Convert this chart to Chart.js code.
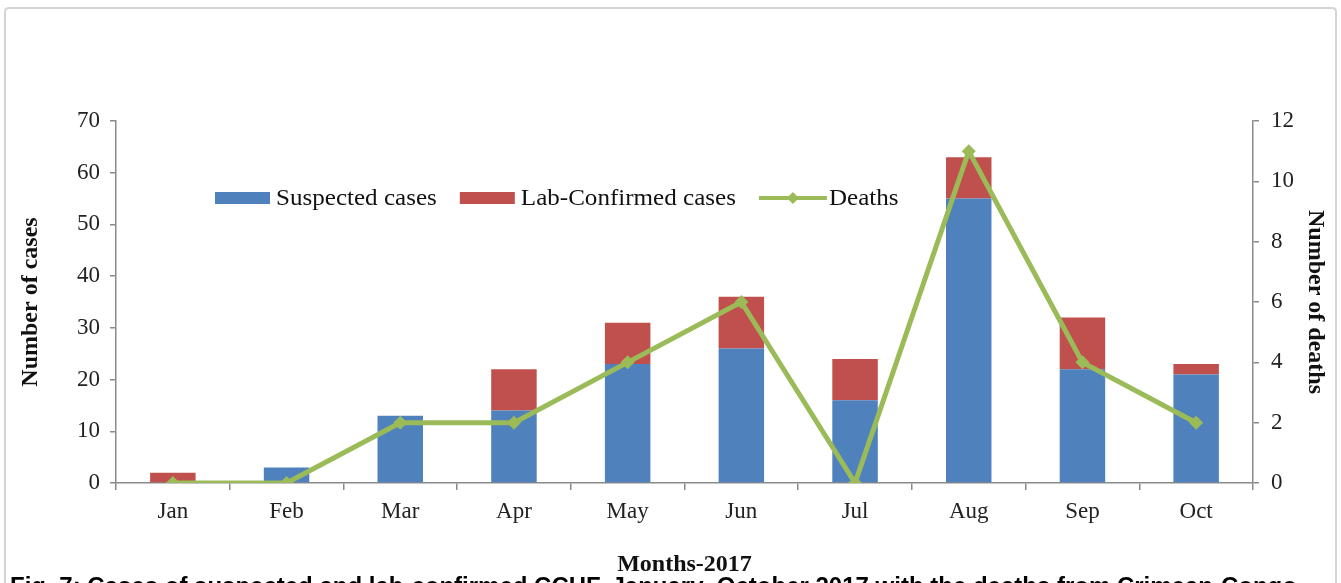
<!DOCTYPE html>
<html><head><meta charset="utf-8">
<script src="https://cdn.jsdelivr.net/npm/chart.js@4.4.1/dist/chart.umd.min.js"></script>
<style>html,body{margin:0;padding:0;background:#fff;overflow:hidden}#wrap{position:relative;width:1341px;height:583px}</style>
</head><body><div id="wrap"><canvas id="c" width="1341" height="583"></canvas></div>
<script>
const months = ['Jan','Feb','Mar','Apr','May','Jun','Jul','Aug','Sep','Oct'];
const suspectedCases = [0, 3, 13, 14, 23, 26, 16, 55, 22, 21];
const labConfirmedCases = [2, 0, 0, 8, 8, 10, 8, 8, 10, 2];
const deaths = [0, 0, 2, 2, 4, 6, 0, 11, 4, 2];
const casesTicks = [0, 10, 20, 30, 40, 50, 60, 70];
const deathsTicks = [0, 2, 4, 6, 8, 10, 12];
const seriesNames = ['Suspected cases', 'Lab-Confirmed cases', 'Deaths'];
const captionText = 'Fig. 7: Cases of suspected and lab-confirmed CCHF, January\u2013October 2017 with the deaths from Crimean-Congo';

const BLUE = '#4F81BD', RED = '#C0504D', GREEN = '#9BBB59', AXIS = '#8a8a8a';
const SERIF = '"Liberation Serif", "Times New Roman", serif';

const framePlugin = {
  id: 'frame',
  beforeDraw(chart) {
    const ctx = chart.ctx;
    ctx.save();
    ctx.fillStyle = '#fff';
    ctx.fillRect(0, 0, chart.width, chart.height);
    ctx.strokeStyle = '#d4d4d4';
    ctx.lineWidth = 2;
    ctx.beginPath();
    ctx.moveTo(5, 600);
    ctx.lineTo(5, 12);
    ctx.quadraticCurveTo(5, 8, 9, 8);
    ctx.lineTo(1332, 8);
    ctx.quadraticCurveTo(1336, 8, 1336, 12);
    ctx.lineTo(1336, 600);
    ctx.stroke();
    ctx.restore();
  },
  afterDraw(chart) {
    const ctx = chart.ctx;
    ctx.save();
    ctx.fillStyle = '#000';
    ctx.font = 'bold 24px "Liberation Sans", Arial, sans-serif';
    ctx.textBaseline = 'top';
    ctx.textAlign = 'left';
    ctx.fillText(captionText, 10, 575);
    ctx.restore();
  }
};

const legendPlugin = {
  id: 'customLegend',
  afterDatasetsDraw(chart) {
    const ctx = chart.ctx;
    const ds = chart.data.datasets;
    const sx = 1.09;
    ctx.save();
    ctx.font = '23px ' + SERIF;
    ctx.textBaseline = 'middle';
    const drawText = (t, x, y) => {
      ctx.save();
      ctx.translate(x, y);
      ctx.scale(sx, 1);
      ctx.fillStyle = '#111';
      ctx.fillText(t, 0, 0);
      ctx.restore();
      return ctx.measureText(t).width * sx;
    };
    let x = chart.chartArea.left + 99;
    const cy = 198;
    ds.forEach((d) => {
      if (d.type === 'line') {
        ctx.strokeStyle = d.borderColor;
        ctx.lineWidth = 4;
        ctx.beginPath(); ctx.moveTo(x, cy); ctx.lineTo(x + 68, cy); ctx.stroke();
        ctx.fillStyle = d.borderColor;
        const mx = x + 34, r = 6;
        ctx.beginPath(); ctx.moveTo(mx, cy - r); ctx.lineTo(mx + r, cy); ctx.lineTo(mx, cy + r); ctx.lineTo(mx - r, cy); ctx.closePath(); ctx.fill();
        const w = drawText(d.label, x + 70, cy + 1);
        x += 70 + w + 23;
      } else {
        ctx.fillStyle = d.backgroundColor;
        ctx.fillRect(x, cy - 6, 55, 12);
        const w = drawText(d.label, x + 61, cy + 1);
        x += 61 + w + 23;
      }
    });
    ctx.restore();
  }
};

const tickFont = { family: SERIF, size: 23 };
const titleFont = { family: SERIF, size: 24, weight: 'bold' };

new Chart(document.getElementById('c'), {
  data: {
    labels: months,
    datasets: [
      { type: 'bar', label: seriesNames[0], data: suspectedCases, backgroundColor: BLUE, yAxisID: 'y', stack: 'cases', order: 2, barPercentage: 0.4, categoryPercentage: 1.0 },
      { type: 'bar', label: seriesNames[1], data: labConfirmedCases, backgroundColor: RED, yAxisID: 'y', stack: 'cases', order: 2, barPercentage: 0.4, categoryPercentage: 1.0 },
      { type: 'line', label: seriesNames[2], data: deaths, borderColor: GREEN, backgroundColor: GREEN, borderWidth: 5, tension: 0, yAxisID: 'y1', order: 0,
        pointStyle: 'rectRot', pointRadius: 7, pointBackgroundColor: GREEN, pointBorderColor: GREEN, pointBorderWidth: 0 }
    ]
  },
  options: {
    responsive: false, animation: false, devicePixelRatio: 1,
    layout: { padding: { top: 121, left: 0, right: 0, bottom: 0 } },
    plugins: { legend: { display: false }, tooltip: { enabled: false } },
    scales: {
      x: {
        stacked: true,
        grid: { display: true, drawOnChartArea: false, drawTicks: true, tickLength: 7, color: AXIS, lineWidth: 1.5, offset: true },
        border: { display: true, color: AXIS, width: 1.5 },
        ticks: { font: tickFont, color: '#222', padding: 8 },
        title: { display: true, text: 'Months-2017', font: titleFont, color: '#111', padding: { top: 0, bottom: 4 } },
        afterFit(s) { s.height = 100; }
      },
      y: {
        type: 'linear', position: 'left', stacked: true, min: 0, max: 70,
        afterBuildTicks(s) { s.ticks = casesTicks.map(v => ({ value: v })); },
        grid: { display: true, drawOnChartArea: false, drawTicks: true, tickLength: 6, color: AXIS, lineWidth: 1.5 },
        border: { display: true, color: AXIS, width: 1.5 },
        ticks: { font: tickFont, color: '#222', padding: 10 },
        title: { display: true, text: 'Number of cases', font: titleFont, color: '#111', padding: { top: 16, bottom: 0 } },
        afterFit(s) { s.width = 116; }
      },
      y1: {
        type: 'linear', position: 'right', min: 0, max: 12,
        afterBuildTicks(s) { s.ticks = deathsTicks.map(v => ({ value: v })); },
        grid: { display: true, drawOnChartArea: false, drawTicks: true, tickLength: 6, color: AXIS, lineWidth: 1.5 },
        border: { display: true, color: AXIS, width: 1.5 },
        ticks: { font: tickFont, color: '#222', padding: 12 },
        title: { display: true, text: 'Number of deaths', font: titleFont, color: '#111', padding: { top: 11, bottom: 0 } },
        afterFit(s) { s.width = 88; }
      }
    }
  },
  plugins: [framePlugin, legendPlugin]
});
</script>
</body></html>
